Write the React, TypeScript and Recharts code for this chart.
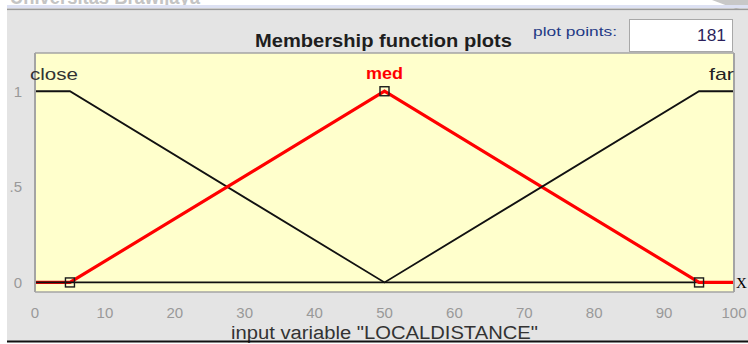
import React from 'react';
import { ComposedChart, Line, XAxis, YAxis, CartesianGrid } from 'recharts';

// Membership functions of the input variable, sampled at their breakpoints
const xPoints = [0, 5, 50, 95, 100];
const closeValues = [1, 1, 0, 0, 0];
const medValues = [0, 0, 1, 0, 0];
const farValues = [0, 0, 0, 1, 1];
// indexes of the selected (med) function's parameters: 5, 50, 95
const medParamIndexes = [1, 2, 3];

const xDomain = [0, 100];
const yDomain = [-0.05, 1.2];
const xTicks = [0, 10, 20, 30, 40, 50, 60, 70, 80, 90, 100];
const innerXTicks = [10, 20, 30, 40, 50, 60, 70, 80, 90];
const yTicks = [0, 0.5, 1];
const yTickLabels = ['0', '.5', '1'];
const innerYTicks = [0.5];

const mfNames = ['close', 'med', 'far'];
const titleText = 'Membership function plots';
const xLabelText = 'input variable "LOCALDISTANCE"';
const plotPointsLabel = 'plot points:';
const plotPointsValue = '181';
const headerText = 'Universitas Brawijaya';

const data = xPoints.map((x, i) => ({
  x,
  close: closeValues[i],
  med: medValues[i],
  far: farValues[i],
}));

const FONT = 'Arial, "Liberation Sans", Helvetica, sans-serif';
const BORDER = '#a4a4a4';
const TICK_FILL = '#999999';

const renderMedDot = (props: any) => {
  const { cx, cy, index } = props;
  if (!medParamIndexes.includes(index) || cx == null || cy == null) {
    return <g key={`md-${index}`} />;
  }
  return (
    <rect
      key={`md-${index}`}
      x={cx - 4.5}
      y={cy - 4.5}
      width={9}
      height={9}
      fill="none"
      stroke="#1a1a1a"
      strokeWidth={1.4}
    />
  );
};

type NameLabelOpts = {
  name: string;
  index: number;
  anchor: 'start' | 'middle' | 'end';
  dx: number;
  dy: number;
  fill: string;
  weight: number | string;
  size: number;
  length: number;
};

const makeNameLabel = (o: NameLabelOpts) => (props: any) => {
  const { x, y, index } = props;
  if (index !== o.index || x == null || y == null) return <g key={`nl-${o.name}-${index}`} />;
  return (
    <text
      key={`nl-${o.name}-${index}`}
      x={x + o.dx}
      y={y + o.dy}
      textAnchor={o.anchor}
      fill={o.fill}
      fontFamily={FONT}
      fontWeight={o.weight}
      fontSize={o.size}
      textLength={o.length}
      lengthAdjust="spacingAndGlyphs"
    >
      {o.name}
    </text>
  );
};

const closeLabel = makeNameLabel({
  name: mfNames[0], index: 0, anchor: 'start', dx: -5, dy: -11,
  fill: '#333333', weight: 'normal', size: 17, length: 48,
});
const medLabel = makeNameLabel({
  name: mfNames[1], index: 2, anchor: 'middle', dx: 0, dy: -12,
  fill: '#ff0000', weight: 'bold', size: 17, length: 37,
});
const farLabel = makeNameLabel({
  name: mfNames[2], index: 4, anchor: 'end', dx: 0, dy: -11,
  fill: '#222222', weight: 'normal', size: 17, length: 25,
});

const renderXLabel = (props: any) => {
  const vb = props && props.viewBox ? props.viewBox : null;
  const cx = vb ? vb.x + vb.width / 2 : 384.5;
  return (
    <text
      x={cx}
      y={339}
      textAnchor="middle"
      fill="#333333"
      fontFamily={FONT}
      fontSize={18}
      textLength={307}
      lengthAdjust="spacingAndGlyphs"
    >
      {xLabelText}
    </text>
  );
};

export default function App() {
  return (
    <div
      style={{
        position: 'absolute',
        left: 0,
        top: 0,
        width: 748,
        height: 344,
        background: '#ffffff',
        overflow: 'hidden',
        fontFamily: FONT,
      }}
    >
      {/* window panel */}
      <div
        style={{
          position: 'absolute',
          left: 7,
          top: 10,
          width: 741,
          height: 331,
          background: '#e4e4e4',
        }}
      />

      <div style={{ position: 'absolute', left: 0, top: 0 }}>
        <ComposedChart
          width={748}
          height={344}
          data={data}
          margin={{ top: 53, right: 14, bottom: 0, left: 0 }}
        >
          <CartesianGrid
            xAxisId="b"
            yAxisId="l"
            horizontal={false}
            vertical={false}
            fill="#ffffcc"
            stroke="none"
          />
          <XAxis
            xAxisId="b"
            dataKey="x"
            type="number"
            domain={xDomain}
            ticks={xTicks}
            interval={0}
            allowDataOverflow
            orientation="bottom"
            height={52}
            tickSize={0}
            tickMargin={15}
            axisLine={false}
            tickLine={false}
            tick={{ fill: TICK_FILL, fontSize: 15, fontFamily: FONT }}
            label={{ content: renderXLabel }}
          />
          <XAxis
            xAxisId="t"
            type="number"
            domain={xDomain}
            ticks={innerXTicks}
            interval={0}
            orientation="top"
            mirror
            tick={false}
            tickSize={5}
            tickLine={{ stroke: '#8e8e8e', strokeWidth: 1.3 }}
            axisLine={{ stroke: BORDER, strokeWidth: 1.6 }}
          />
          <XAxis
            xAxisId="bm"
            type="number"
            domain={xDomain}
            ticks={innerXTicks}
            interval={0}
            orientation="bottom"
            mirror
            tick={false}
            tickSize={5}
            tickLine={{ stroke: '#8e8e8e', strokeWidth: 1.3 }}
            axisLine={{ stroke: BORDER, strokeWidth: 1.6 }}
          />
          <YAxis
            yAxisId="l"
            type="number"
            domain={yDomain}
            ticks={yTicks}
            interval={0}
            allowDataOverflow
            width={35}
            tickSize={0}
            tickMargin={13}
            axisLine={false}
            tickLine={false}
            tick={{ fill: TICK_FILL, fontSize: 15, fontFamily: FONT }}
            tickFormatter={(v: number) => yTickLabels[yTicks.indexOf(v)] ?? String(v)}
          />
          <YAxis
            yAxisId="lm"
            type="number"
            domain={yDomain}
            ticks={innerYTicks}
            interval={0}
            orientation="left"
            mirror
            tick={false}
            tickSize={5}
            tickLine={{ stroke: '#8e8e8e', strokeWidth: 1.3 }}
            axisLine={{ stroke: BORDER, strokeWidth: 2 }}
          />
          <YAxis
            yAxisId="rm"
            type="number"
            domain={yDomain}
            ticks={innerYTicks}
            interval={0}
            orientation="right"
            mirror
            tick={false}
            tickSize={5}
            tickLine={{ stroke: '#8e8e8e', strokeWidth: 1.3 }}
            axisLine={{ stroke: BORDER, strokeWidth: 2 }}
          />

          <Line
            xAxisId="b"
            yAxisId="l"
            type="linear"
            dataKey="close"
            stroke="#111111"
            strokeWidth={1.8}
            dot={false}
            activeDot={false}
            isAnimationActive={false}
            label={closeLabel}
          />
          <Line
            xAxisId="b"
            yAxisId="l"
            type="linear"
            dataKey="med"
            stroke="#ff0000"
            strokeWidth={3.2}
            dot={renderMedDot}
            activeDot={false}
            isAnimationActive={false}
            label={medLabel}
          />
          <Line
            xAxisId="b"
            yAxisId="l"
            type="linear"
            dataKey="far"
            stroke="#111111"
            strokeWidth={1.8}
            dot={false}
            activeDot={false}
            isAnimationActive={false}
            label={farLabel}
          />
        </ComposedChart>
      </div>

      {/* window chrome: header strip, title, plot-points field, axis letter */}
      <svg
        width={748}
        height={344}
        style={{ position: 'absolute', left: 0, top: 0, pointerEvents: 'none' }}
      >
        <text
          x={10}
          y={4}
          fill="#c4c4c4"
          fontFamily={FONT}
          fontWeight="bold"
          fontSize={20}
          textLength={190}
          lengthAdjust="spacingAndGlyphs"
        >
          {headerText}
        </text>
        <polygon points="712,0 748,0 748,6 736,9" fill="#c8c8c8" />
        <rect x={7} y={5} width={741} height={3} fill="#dde1f3" />
        <rect x={7} y={8.5} width={741} height={1.6} fill="#9a9a9a" />

        <text
          x={255}
          y={47}
          fill="#1e1e1e"
          fontFamily={FONT}
          fontWeight="bold"
          fontSize={18.5}
          textLength={257}
          lengthAdjust="spacingAndGlyphs"
        >
          {titleText}
        </text>

        <text
          x={533}
          y={36}
          fill="#1f3a86"
          fontFamily={FONT}
          fontSize={13.5}
          textLength={84}
          lengthAdjust="spacingAndGlyphs"
        >
          {plotPointsLabel}
        </text>
        <rect x={629.5} y={19.5} width={103} height={32} fill="#ffffff" stroke="#a8a8a8" strokeWidth={1} />
        <text
          x={726}
          y={41}
          textAnchor="end"
          fill="#2b1f5c"
          fontFamily={FONT}
          fontSize={16.5}
          textLength={29}
          lengthAdjust="spacingAndGlyphs"
        >
          {plotPointsValue}
        </text>

        <text
          x={736}
          y={287.5}
          fill="#000000"
          fontFamily='"Liberation Serif", "DejaVu Serif", serif'
          fontSize={15}
        >
          X
        </text>

        <rect x={7} y={340.5} width={741} height={2} fill="#111111" />
      </svg>
    </div>
  );
}
